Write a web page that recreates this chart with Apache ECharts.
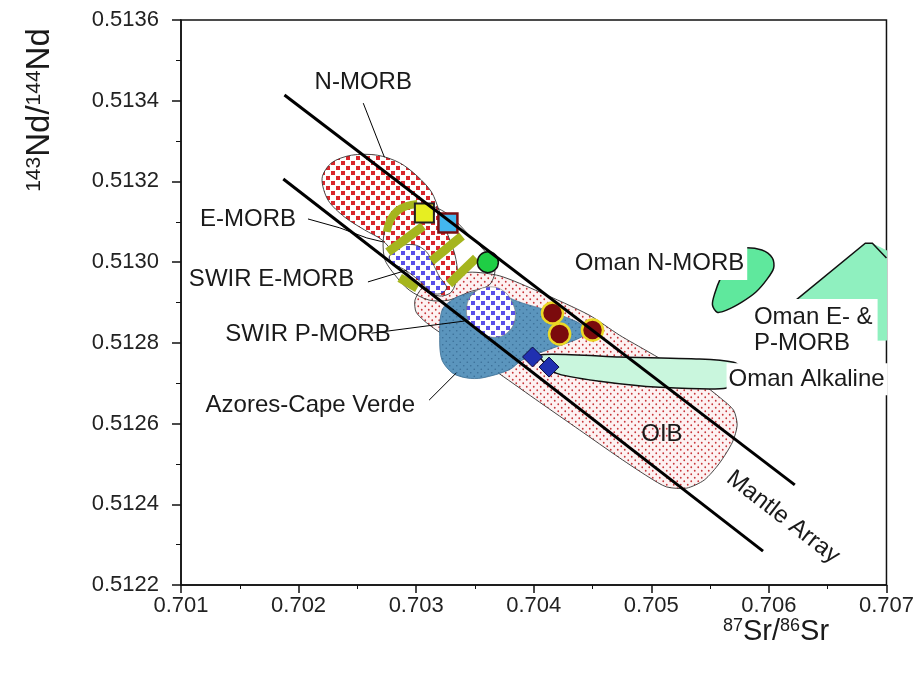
<!DOCTYPE html>
<html>
<head>
<meta charset="utf-8">
<script src="https://cdn.jsdelivr.net/npm/echarts@6/dist/echarts.min.js"></script>
<style>
  html, body { margin: 0; padding: 0; background: #fff; }
  #chart { width: 917px; height: 674px; }
</style>
</head>
<body>
<div id="chart"></div>
<script>
// Axis ranges: 87Sr/86Sr (x) and 143Nd/144Nd (y)
const srRange = [0.701, 0.707, 0.001];
const ndRange = [0.5122, 0.5136, 0.0002];

// Field outlines, vertices as [87Sr/86Sr, 143Nd/144Nd]
const oibField = [
  [0.70299,0.512906],[0.70305,0.512936],[0.70316,0.512956],[0.70345,0.512975],[0.70371,0.512966],
  [0.70405,0.512926],[0.70447,0.512869],[0.70473,0.512819],[0.70498,0.512777],[0.70541,0.512703],
  [0.70559,0.512663],[0.70570,0.512633],[0.70573,0.512596],[0.70569,0.512554],[0.70558,0.512502],
  [0.70545,0.512460],[0.70530,0.512440],[0.70513,0.512443],[0.70498,0.512467],[0.70473,0.512515],
  [0.70439,0.512584],[0.70405,0.512653],[0.70371,0.512723],[0.70337,0.512792],[0.70310,0.512847],
  [0.70300,0.512876]
];
const nmorbField = [
  [0.70220,0.513208],[0.70228,0.513246],[0.70245,0.513265],[0.70267,0.513265],[0.70286,0.513246],
  [0.70301,0.513213],[0.70313,0.513174],[0.70320,0.513124],[0.70326,0.513075],[0.70333,0.513018],
  [0.70335,0.512968],[0.70330,0.512926],[0.70320,0.512916],[0.70307,0.512931],[0.70294,0.512968],
  [0.70282,0.513018],[0.70271,0.513055],[0.70256,0.513080],[0.70239,0.513112],[0.70225,0.513154]
];
const emorbField = [
  [0.70273,0.513075],[0.70282,0.513117],[0.70294,0.513137],[0.70310,0.513142],[0.70328,0.513117],
  [0.70345,0.513067],[0.70361,0.513018],[0.70367,0.512980],[0.70362,0.512943],[0.70345,0.512926],
  [0.70328,0.512906],[0.70311,0.512906],[0.70294,0.512931],[0.70282,0.512968],[0.70273,0.513010]
];
const swirEmorbField = [
  [0.70277,0.513013],[0.70283,0.513032],[0.70288,0.513042],[0.70300,0.513042],[0.70309,0.513025],
  [0.70314,0.512998],[0.70320,0.512963],[0.70326,0.512938],[0.70322,0.512923],[0.70314,0.512923],
  [0.70303,0.512953],[0.70292,0.512978],[0.70280,0.512998]
];
const swirPmorbField = [
  [0.70343,0.512889],[0.70348,0.512921],[0.70360,0.512938],[0.70373,0.512931],[0.70382,0.512899],
  [0.70384,0.512857],[0.70377,0.512824],[0.70365,0.512814],[0.70354,0.512827],[0.70345,0.512852]
];
const azoresField = [
  [0.70322,0.512881],[0.70333,0.512911],[0.70345,0.512923],[0.70360,0.512931],[0.70390,0.512899],
  [0.70411,0.512881],[0.70433,0.512857],[0.70441,0.512844],[0.70445,0.512827],[0.70439,0.512812],
  [0.70419,0.512790],[0.70405,0.512775],[0.70390,0.512757],[0.70379,0.512733],[0.70356,0.512713],
  [0.70343,0.512713],[0.70331,0.512725],[0.70322,0.512757],[0.70320,0.512807]
];
const omanAlkalineField = [
  [0.70405,0.512770],[0.70473,0.512765],[0.70541,0.512760],[0.70570,0.512752],[0.70577,0.512738],
  [0.70566,0.512725],[0.70564,0.512688],[0.70507,0.512690],[0.70456,0.512705],[0.70419,0.512725]
];
const omanNmorbField = [
  [0.70577,0.513035],[0.70594,0.513030],[0.70603,0.513010],[0.70604,0.512985],[0.70598,0.512956],
  [0.70589,0.512926],[0.70577,0.512901],[0.70564,0.512881],[0.70556,0.512876],[0.70552,0.512894],
  [0.70554,0.512923],[0.70559,0.512961],[0.70566,0.512998],[0.70570,0.513025]
];
const omanEPmorbField = [
  [0.70623,0.512906],[0.70682,0.513047],[0.70688,0.513047],[0.70720,0.513000],[0.70720,0.512807],
  [0.70689,0.512805],[0.70651,0.512805],[0.70623,0.512857]
];
const omanEPmorbEdge = [
  [0.70623,0.512906],[0.70682,0.513047],[0.70688,0.513047],[0.70700,0.513010]
];

// Olive tie bands across the E-MORB field
const oliveArc = [[0.70275,0.513075],[0.70278,0.513104],[0.70284,0.513127],[0.70292,0.513139],[0.70301,0.513144]];
const oliveBands = [
  [[0.70276,0.513025],[0.70306,0.513089]],
  [[0.70313,0.513003],[0.70339,0.513065]],
  [[0.70328,0.512946],[0.70351,0.513010]],
  [[0.70286,0.512961],[0.70301,0.512936]]
];

// Mantle array bounds
const mantleUpper = [[0.70188,0.513414],[0.70622,0.512448]];
const mantleLower = [[0.70187,0.513206],[0.70595,0.512284]];

// Label leader lines
const leaders = [
  [[0.70255,0.513394],[0.70273,0.513260]],
  [[0.70208,0.513107],[0.70235,0.513085],[0.70258,0.513060],[0.70272,0.513050]],
  [[0.70259,0.512951],[0.70292,0.512980]],
  [[0.70262,0.512824],[0.70341,0.512854]],
  [[0.70311,0.512658],[0.70334,0.512725]]
];

// Samples
const yellowSquare = [[0.70307,0.513122]];
const blueSquare = [[0.70327,0.513097]];
const greenCircle = [[0.70361,0.513000]];
const redCircles = [[0.70416,0.512874],[0.70422,0.512822],[0.70450,0.512832]];
const blueDiamonds = [[0.70399,0.512765],[0.70413,0.512740]];

// Field labels
const labelText = ['N-MORB','E-MORB','SWIR E-MORB','SWIR P-MORB','Azores-Cape Verde','OIB',
  'Oman N-MORB','Oman E- &\nP-MORB','Oman Alkaline','Mantle Array'];
const labelPos = [
  [0.70255,0.513446],[0.70157,0.513107],[0.70177,0.512958],[0.70208,0.512822],[0.70210,0.512646],
  [0.70509,0.512574],[0.70507,0.512998],[0.70583,0.512832],[0.70564,0.512710],[0.70612,0.512368]
];

const FONT = '"Liberation Sans", Arial, sans-serif';

function tilePattern(bg, fg, size, mark, round) {
  const c = document.createElement('canvas');
  c.width = c.height = size;
  const g = c.getContext('2d');
  if (bg) { g.fillStyle = bg; g.fillRect(0, 0, size, size); }
  g.fillStyle = fg;
  [[size * 0.25, size * 0.25], [size * 0.75, size * 0.75]].forEach(([cx, cy]) => {
    if (round) { g.beginPath(); g.arc(cx, cy, mark / 2, 0, Math.PI * 2); g.fill(); }
    else g.fillRect(Math.round(cx - mark / 2), Math.round(cy - mark / 2), mark, mark);
  });
  return { image: c, repeat: 'repeat' };
}

const redSquares = tilePattern('#ffffff', '#d9262c', 10, 4, false);
const blueSquares = tilePattern('#ffffff', '#5a50e8', 10, 4, false);
const pinkDots = tilePattern('#fdf2f2', '#c8363a', 7, 1.8, true);
const azoresDots = tilePattern('#5b95bd', '#3c6f97', 7, 1.6, true);

function areaSeries(pts, style, smooth) {
  return {
    type: 'custom', coordinateSystem: 'cartesian2d', silent: true, clip: true,
    data: pts, encode: { x: 0, y: 1 },
    renderItem(params, api) {
      if (params.dataIndex !== 0) return null;
      return { type: 'polygon', shape: { points: pts.map(p => api.coord(p)), smooth: smooth || 0 }, style };
    }
  };
}

function pathSeries(pts, style, smooth) {
  return {
    type: 'custom', coordinateSystem: 'cartesian2d', silent: true, clip: true,
    data: pts, encode: { x: 0, y: 1 },
    renderItem(params, api) {
      if (params.dataIndex !== 0) return null;
      return { type: 'polyline', shape: { points: pts.map(p => api.coord(p)), smooth: smooth || 0 },
        style: Object.assign({ fill: null }, style) };
    }
  };
}

function lineSeries(pts, width) {
  return {
    type: 'line', data: pts, showSymbol: false, symbol: 'none', silent: true,
    lineStyle: { color: '#000', width: width }
  };
}

function pointSeries(pts, symbol, size, color, border, borderWidth) {
  return {
    type: 'scatter', data: pts, symbol, symbolSize: size, silent: true,
    itemStyle: { color, borderColor: border, borderWidth, opacity: 1 }
  };
}

const labelStyle = [
  {}, {}, {}, {}, {}, {},
  { bg: true, padding: [3, 3, 3, 3] },
  { bg: true, align: 'left', padding: [5, 5, 5, 5], lineHeight: 26 },
  { bg: true, align: 'left', padding: [2, 3, 2, 2] },
  { rotation: -0.66 }
];

const labelSeries = {
  type: 'custom', coordinateSystem: 'cartesian2d', silent: true, clip: false, z: 10,
  data: labelPos, encode: { x: 0, y: 1 },
  renderItem(params, api) {
    const i = params.dataIndex;
    const p = api.coord(labelPos[i]);
    const s = labelStyle[i];
    return {
      type: 'text', x: p[0], y: p[1], rotation: s.rotation || 0,
      style: {
        text: labelText[i], x: 0, y: 0,
        font: '24px ' + FONT, fill: '#1a1a1a',
        align: s.align || 'center', verticalAlign: 'middle',
        lineHeight: s.lineHeight || 28,
        backgroundColor: s.bg ? '#ffffff' : null,
        padding: s.padding || 0
      }
    };
  }
};

const series = [
  areaSeries(oibField, { fill: pinkDots, stroke: '#333', lineWidth: 0.9 }, 0.25),
  areaSeries(nmorbField, { fill: redSquares, stroke: '#333', lineWidth: 0.9 }, 0.3),
  areaSeries(emorbField, { fill: null, stroke: '#333', lineWidth: 0.9 }, 0.3),
  areaSeries(swirEmorbField, { fill: blueSquares, stroke: '#333', lineWidth: 0.8 }, 0.3),
  pathSeries(oliveArc, { stroke: '#a5b51e', lineWidth: 8 }, 0.4),
  ...oliveBands.map(b => pathSeries(b, { stroke: '#a5b51e', lineWidth: 9 })),
  areaSeries(azoresField, { fill: azoresDots, stroke: '#3d6e93', lineWidth: 0.8 }, 0.3),
  areaSeries(swirPmorbField, { fill: blueSquares, stroke: '#777', lineWidth: 0.6 }, 0.4),
  areaSeries(omanAlkalineField, { fill: '#c9f6dd', stroke: '#111', lineWidth: 1.5 }, 0.2),
  areaSeries(omanNmorbField, { fill: '#5fe89d', stroke: '#111', lineWidth: 1.5 }, 0.3),
  areaSeries(omanEPmorbField, { fill: '#8ff0bf', stroke: null, lineWidth: 0 }, 0),
  pathSeries(omanEPmorbEdge, { stroke: '#111', lineWidth: 1.5 }),
  lineSeries(mantleUpper, 3),
  lineSeries(mantleLower, 3),
  ...leaders.map(l => lineSeries(l, 1)),
  pointSeries(yellowSquare, 'rect', 19, '#e6ee22', '#222', 2),
  pointSeries(blueSquare, 'rect', 19, '#43b7ee', '#7a0f12', 2.5),
  pointSeries(greenCircle, 'circle', 21, '#1fce45', '#111', 1.5),
  pointSeries(redCircles, 'circle', 21, '#7b0b0d', '#ecd925', 2.5),
  pointSeries(blueDiamonds, 'diamond', 20, '#2030b0', '#0b0b40', 1),
  labelSeries
];

const chart = echarts.init(document.getElementById('chart'), null, { renderer: 'canvas' });
chart.setOption({
  animation: false,
  backgroundColor: '#ffffff',
  grid: { left: 181, right: 29, top: 20, bottom: 89, show: true, borderColor: '#111', borderWidth: 1.5, backgroundColor: 'transparent' },
  xAxis: {
    type: 'value', min: srRange[0], max: srRange[1], interval: srRange[2],
    axisLine: { show: true, onZero: false, lineStyle: { color: '#111', width: 1.5 } },
    axisTick: { show: true, inside: false, length: 8, lineStyle: { color: '#111', width: 1.5 } },
    minorTick: { show: true, splitNumber: 2, length: 4, lineStyle: { color: '#111', width: 1 } },
    splitLine: { show: false },
    axisLabel: { margin: 10, color: '#222', fontSize: 22, fontFamily: FONT, formatter: v => v.toFixed(3) }
  },
  yAxis: {
    type: 'value', min: ndRange[0], max: ndRange[1], interval: ndRange[2],
    axisLine: { show: true, onZero: false, lineStyle: { color: '#111', width: 1.5 } },
    axisTick: { show: true, inside: false, length: 9, lineStyle: { color: '#111', width: 1.5 } },
    minorTick: { show: true, splitNumber: 2, length: 5, lineStyle: { color: '#111', width: 1 } },
    splitLine: { show: false },
    axisLabel: { margin: 22, color: '#222', fontSize: 22, fontFamily: FONT, formatter: v => v.toFixed(4) }
  },
  graphic: [
    {
      type: 'text', x: 40, y: 110, rotation: Math.PI / 2, z: 20,
      style: {
        text: '{s|143}{m|Nd/}{s|144}{m|Nd}', align: 'center', verticalAlign: 'middle',
        rich: {
          s: { fontSize: 21, fontFamily: FONT, fill: '#1a1a1a', verticalAlign: 'top', padding: [0, 0, 9, 0] },
          m: { fontSize: 33, fontFamily: FONT, fill: '#1a1a1a' }
        }
      }
    },
    {
      type: 'text', x: 776, y: 632, z: 20,
      style: {
        text: '{s|87}{m|Sr/}{s|86}{m|Sr}', align: 'center', verticalAlign: 'middle',
        rich: {
          s: { fontSize: 18, fontFamily: FONT, fill: '#1a1a1a', verticalAlign: 'top', padding: [0, 0, 8, 0] },
          m: { fontSize: 29, fontFamily: FONT, fill: '#1a1a1a' }
        }
      }
    }
  ],
  series
});
</script>
</body>
</html>
